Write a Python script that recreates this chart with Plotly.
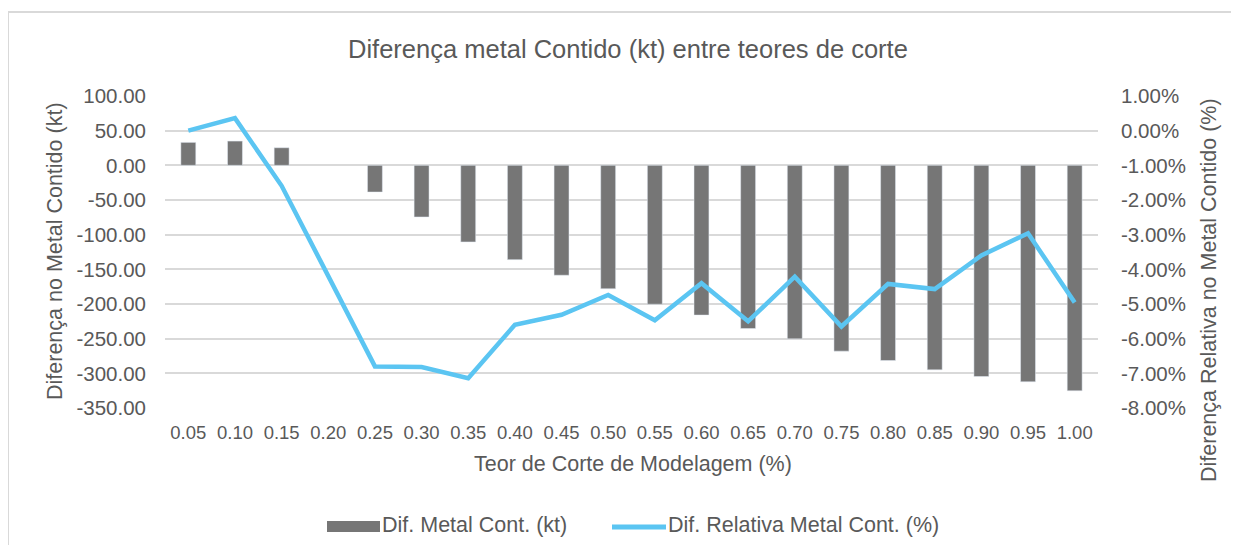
import plotly.graph_objects as go

# ── data ─────────────────────────────────────────────
cutoffs = ["0.05", "0.10", "0.15", "0.20", "0.25", "0.30", "0.35", "0.40", "0.45", "0.50",
           "0.55", "0.60", "0.65", "0.70", "0.75", "0.80", "0.85", "0.90", "0.95", "1.00"]
dif_metal_kt = [33.1, 35.0, 25.4, None, -38.5, -74.5, -110.5, -136.0, -158.5, -178.0,
                -200.3, -216.0, -235.4, -250.3, -268.0, -281.5, -295.0, -304.6, -312.2, -325.2]
dif_rel_pct = [0.0000, 0.0036, -0.0159, None, -0.0680, -0.0682, -0.0714, -0.0560, -0.0531, -0.0474,
               -0.0547, -0.0440, -0.0550, -0.0421, -0.0565, -0.0442, -0.0457, -0.0360, -0.0296, -0.0496]

left_ticks = [100, 50, 0, -50, -100, -150, -200, -250, -300, -350]
right_ticks = [0.01, 0.0, -0.01, -0.02, -0.03, -0.04, -0.05, -0.06, -0.07, -0.08]

TXT = "#595959"
GRID = "#D9D9D9"
BAR = "#767676"
LINE = "#5BC5F2"
FONT = "Liberation Sans, Arial, sans-serif"

# figure size / plot box in pixels (page has an 8px body margin, keep clear of scrollbars)
W, H = 1223, 537
L, T = 157, 88
PW, PH = 933, 312
R, B = W - L - PW, H - T - PH


def px(x):  # pixel x -> paper x
    return (x - L) / PW


def py(y):  # pixel y -> paper y
    return (T + PH - y) / PH


fig = go.Figure()
fig.add_trace(go.Bar(
    x=cutoffs, y=dif_metal_kt, name="Dif. Metal Cont. (kt)",
    marker_color=BAR, yaxis="y",
))
fig.add_trace(go.Scatter(
    x=cutoffs, y=dif_rel_pct, name="Dif. Relativa Metal Cont. (%)",
    mode="lines", connectgaps=True,
    line=dict(color=LINE, width=4.5), yaxis="y2",
))


def note(text, x, y, size, angle=0, xanchor="center"):
    return dict(text=text, x=px(x), y=py(y), xref="paper", yref="paper",
                showarrow=False, textangle=angle, xanchor=xanchor, yanchor="middle",
                font=dict(family=FONT, size=size, color=TXT))


annotations = [
    note("Diferença metal Contido (kt) entre teores de corte", 620, 41, 25.5),
    note("Teor de Corte de Modelagem (%)", 625, 456, 21.5),
    note("Diferença no Metal Contido (kt)", 47, 243, 21.5, angle=-90),
    note("Diferença Relativa no Metal Contido (%)", 1201, 282, 21.5, angle=-90),
    note("Dif. Metal Cont. (kt)", 372, 517, 21.5, xanchor="left"),
    note("Dif. Relativa Metal Cont. (%)", 658, 517, 21.5, xanchor="left"),
]

shapes = [
    # chart frame (only left and top edges fall inside the window)
    dict(type="line", xref="paper", yref="paper",
         x0=px(0), x1=px(W), y0=py(4), y1=py(4),
         line=dict(color=GRID, width=2)),
    dict(type="line", xref="paper", yref="paper",
         x0=px(0), x1=px(0), y0=py(4), y1=py(H),
         line=dict(color=GRID, width=2)),
    # legend keys
    dict(type="rect", xref="paper", yref="paper",
         x0=px(319), x1=px(372), y0=py(524), y1=py(513),
         line=dict(width=0), fillcolor=BAR),
    dict(type="line", xref="paper", yref="paper",
         x0=px(604), x1=px(658), y0=py(519), y1=py(519),
         line=dict(color=LINE, width=5)),
]

fig.update_layout(
    width=W, height=H,
    paper_bgcolor="white", plot_bgcolor="white",
    font=dict(family=FONT, color=TXT, size=18),
    margin=dict(l=L, r=R, t=T, b=B, autoexpand=False),
    bargap=0.68,
    showlegend=False,
    xaxis=dict(type="category", showgrid=False, showline=False, ticks="",
               tickfont=dict(size=18.5), ticklabelstandoff=11),
    yaxis=dict(range=[-350, 100], tickvals=left_ticks,
               ticktext=[f"{v:.2f}" for v in left_ticks],
               tickfont=dict(size=20.5),
               showgrid=True, gridcolor=GRID, gridwidth=1.5, zeroline=False,
               ticks="", ticklabelstandoff=18),
    yaxis2=dict(range=[-0.08, 0.01], overlaying="y", side="right",
                tickvals=right_ticks,
                ticktext=[f"{v * 100:.2f}%" for v in right_ticks],
                tickfont=dict(size=20.5),
                showgrid=False, zeroline=False, ticks="", ticklabelstandoff=22),
    annotations=annotations,
    shapes=shapes,
)

fig.write_html("out.html")
